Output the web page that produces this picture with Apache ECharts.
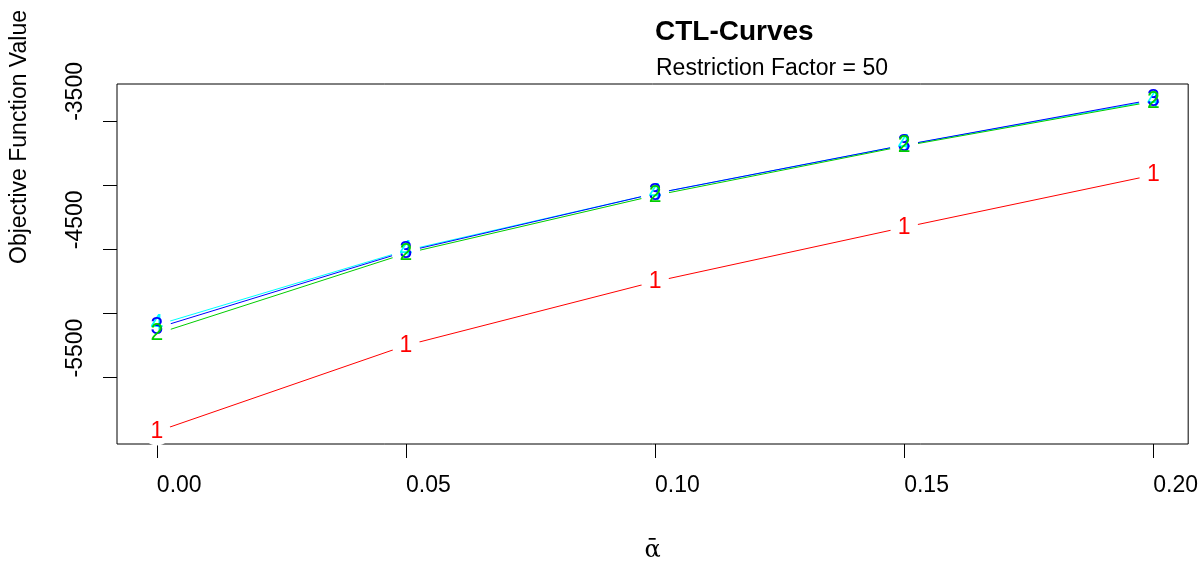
<!DOCTYPE html>
<html><head><meta charset="utf-8">
<script src="https://cdn.jsdelivr.net/npm/echarts@6/dist/echarts.min.js"></script>
<style>html,body{margin:0;padding:0;background:#fff}#c{width:1201px;height:568px}</style>
</head><body><div id="c"></div>
<script>
var alphas = [0, 0.05, 0.10, 0.15, 0.20];
var k1 = [-5921, -5250, -4752, -4330, -3922];
var k2 = [-5159, -4533, -4081, -3696, -3349];
var k3 = [-5114, -4518, -4066, -3689, -3334];
var k4 = [-5091, -4510, -4066, -3689, -3342];
var seriesLabels = ['1', '2', '3', '4'];
var seriesColors = ['#FF0000', '#00CD00', '#0000FF', '#00FFFF'];
var xTicks = [0, 0.05, 0.10, 0.15, 0.20];
var xTickLabels = ['0.00', '0.05', '0.10', '0.15', '0.20'];
var yTicks = [-5500, -5000, -4500, -4000, -3500];
var yTickLabels = [-5500, -4500, -3500];

var all = [k1, k2, k3, k4];
var pts = function (arr) { return alphas.map(function (a, i) { return [a, arr[i]]; }); };
var font = 'Liberation Sans, Arial, sans-serif';
var drawOrder = [0, 3, 2, 1];
var series = [];
drawOrder.forEach(function (s, j) {
  series.push({ type: 'line', data: pts(all[s]), symbol: 'none', z: 2 + j * 0.01,
    lineStyle: { color: seriesColors[s], width: 1, opacity: 1 }, silent: true, animation: false });
});
drawOrder.forEach(function (s) {
  series.push({ type: 'scatter', data: pts(all[s]), symbol: 'circle', symbolSize: 28, z: 3,
    itemStyle: { color: '#ffffff', opacity: 1 }, silent: true, animation: false });
});
drawOrder.forEach(function (s, j) {
  series.push({ type: 'scatter', data: pts(all[s]), symbol: 'circle', symbolSize: 1, z: 4 + j * 0.01,
    itemStyle: { color: 'rgba(0,0,0,0)', opacity: 1 }, silent: true, animation: false,
    label: { show: true, position: 'inside', formatter: seriesLabels[s], color: seriesColors[s], opacity: 1,
      fontSize: 23, fontFamily: font } });
});

var chart = echarts.init(document.getElementById('c'));
chart.setOption({
  animation: false,
  backgroundColor: '#fff',
  title: [
    { text: 'CTL-Curves', left: 650, top: 13, textStyle: { fontSize: 28, fontWeight: 'bold', color: '#000', fontFamily: font } },
    { text: 'Restriction Factor = 50', left: 651, top: 52, textStyle: { fontSize: 23, fontWeight: 'normal', color: '#000', fontFamily: font } }
  ],
  grid: { left: 115, right: 12, top: 84, bottom: 112, show: true, borderColor: '#000', borderWidth: 1, backgroundColor: 'transparent' },
  xAxis: {
    type: 'value', min: -0.008, max: 0.207,
    name: 'ᾱ', nameLocation: 'middle', nameGap: 95,
    nameTextStyle: { fontSize: 24, color: '#000', fontFamily: 'DejaVu Serif, Liberation Serif, serif' },
    axisLine: { show: false, onZero: false },
    splitLine: { show: false },
    axisTick: { show: true, length: 14, inside: false, customValues: xTicks, lineStyle: { color: '#000', width: 1 } },
    axisLabel: { show: true, customValues: xTicks, margin: 30, align: 'left', color: '#000', fontSize: 23, fontFamily: font,
      formatter: function (v) { var i = xTicks.indexOf(v); return i >= 0 ? xTickLabels[i] : ''; } }
  },
  yAxis: {
    type: 'value', min: -6018, max: -3213,
    name: 'Objective Function Value', nameLocation: 'middle', nameGap: 86, nameRotate: 90,
    nameTextStyle: { fontSize: 23, color: '#000', fontFamily: font, align: 'left' },
    axisLine: { show: false, onZero: false },
    splitLine: { show: false },
    axisTick: { show: true, length: 14, inside: false, customValues: yTicks, lineStyle: { color: '#000', width: 1 } },
    axisLabel: { show: true, customValues: yTickLabels, rotate: 90, margin: 30, align: 'left', verticalAlign: 'bottom',
      color: '#000', fontSize: 23, fontFamily: font, formatter: function (v) { return String(v); } }
  },
  series: series
});
</script></body></html>
